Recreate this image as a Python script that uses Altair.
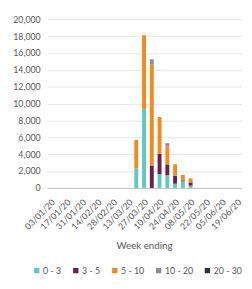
import altair as alt
import pandas as pd

weeks = ["03/01/20", "10/01/20", "17/01/20", "24/01/20", "31/01/20", "07/02/20", "14/02/20",
         "21/02/20", "28/02/20", "06/03/20", "13/03/20", "20/03/20", "27/03/20", "03/04/20",
         "10/04/20", "17/04/20", "24/04/20", "01/05/20", "08/05/20", "15/05/20", "22/05/20",
         "29/05/20", "05/06/20", "12/06/20", "19/06/20"]
tick_labels = weeks[::2]

groups = ["0 - 3", "3 - 5", "5 - 10", "10 - 20", "20 - 30"]
colors = ["#5EC8C2", "#6E1F4C", "#F28A1C", "#8F8F8F", "#333333"]

z = [0] * 11
age_0_3 = z + [2300, 9300, 0, 1630, 1510, 500, 800, 270] + [0] * 6
age_3_5 = z + [0, 0, 2600, 2440, 1280, 950, 100, 390] + [0] * 6
age_5_10 = z + [3400, 8800, 12000, 4330, 2130, 1350, 650, 470] + [0] * 6
age_10_20 = z + [0, 0, 650, 0, 390, 0, 0, 0] + [0] * 6
age_20_30 = z + [0, 0, 0, 0, 0, 0, 0, 0] + [0] * 6

series = [age_0_3, age_3_5, age_5_10, age_10_20, age_20_30]
rows = []
for gi, (g, vals) in enumerate(zip(groups, series)):
    for w, v in zip(weeks, vals):
        rows.append({"week": w, "group": g, "value": v, "order": gi})
df = pd.DataFrame(rows)

font = "Lato"
label_color = "#595959"

chart = alt.Chart(df).mark_bar(size=4).encode(
    x=alt.X("week:N", sort=weeks, title="Week ending",
            scale=alt.Scale(paddingInner=0.5, paddingOuter=0.25),
            axis=alt.Axis(values=tick_labels, labelAngle=-45, ticks=False,
                          domainColor="#BFBFBF", labelFontSize=9, labelColor=label_color,
                          labelFont=font, titleFont=font, titleFontSize=10,
                          titleFontWeight="normal", titleColor=label_color,
                          labelPadding=10, labelOffset=0, labelBound=False,
                          titlePadding=10)),
    y=alt.Y("value:Q", stack="zero", title=None,
            scale=alt.Scale(domain=[0, 20000], nice=False),
            axis=alt.Axis(values=list(range(0, 20001, 2000)), format=",.0f", domain=False,
                          ticks=False, gridColor="#E6E6E6", labelFontSize=9,
                          labelColor=label_color, labelFont=font, labelPadding=7)),
    color=alt.Color("group:N", sort=groups,
                    scale=alt.Scale(domain=groups, range=colors),
                    legend=alt.Legend(title=None, orient="none", direction="horizontal",
                                      legendX=-15, legendY=253, symbolType="square",
                                      symbolSize=30, labelFontSize=9, labelFont=font,
                                      labelColor=label_color, columnPadding=10,
                                      labelOffset=2, symbolStrokeWidth=0)),
    order=alt.Order("order:Q", sort="ascending"),
).properties(
    width=199, height=173,
    autosize=alt.AutoSizeParams(type="none"),
    padding={"left": 40, "top": 8, "right": 3, "bottom": 95},
).configure_view(stroke=None)

chart.save("out.html", embed_options={"renderer": "svg", "actions": False})
